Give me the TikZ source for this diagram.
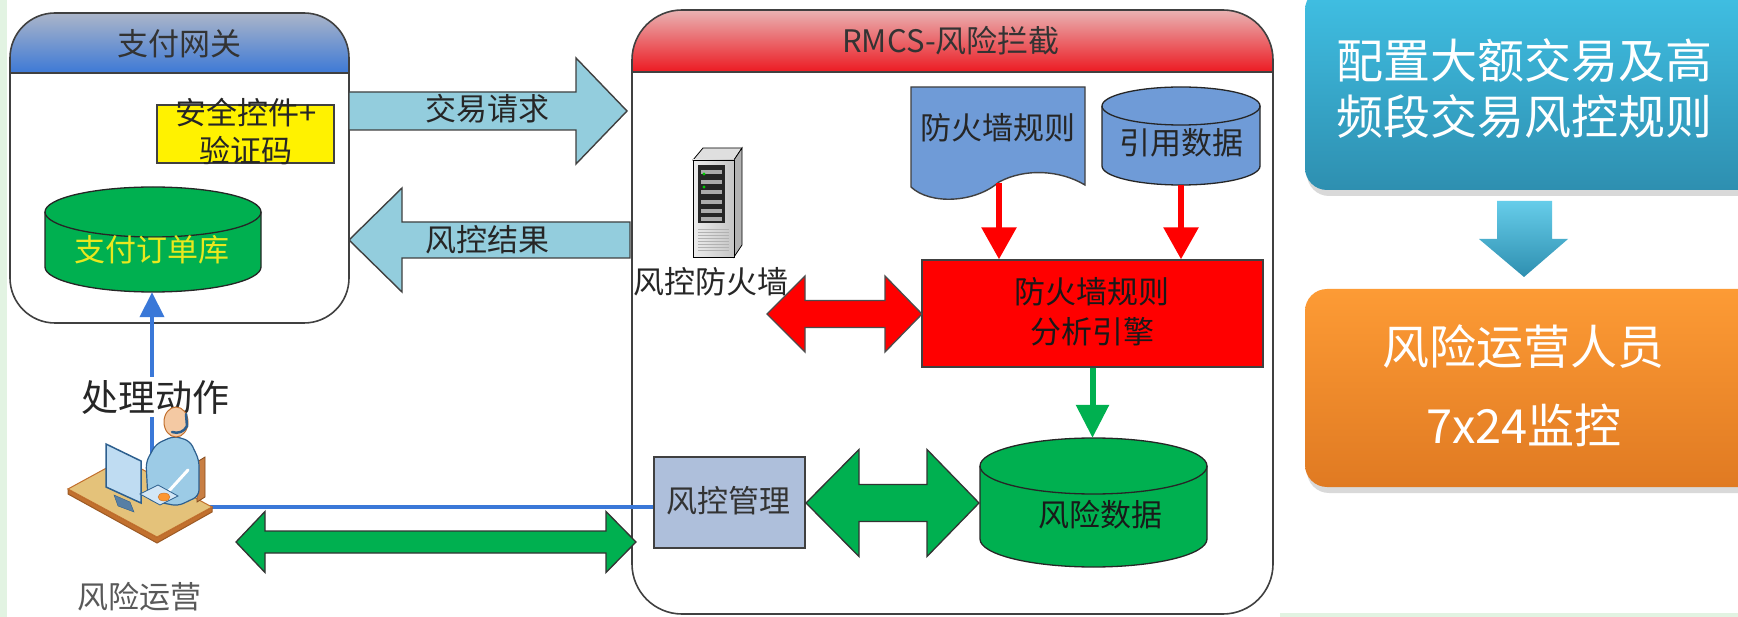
\documentclass[tikz,border=0pt]{standalone}
\usepackage{fontspec}
\setmainfont{Noto Sans CJK SC}
\usetikzlibrary{arrows.meta,fit,calc}

\definecolor{edgegray}{HTML}{404040}
\definecolor{hdrbluetop}{HTML}{ABB5C9}
\definecolor{hdrbluebot}{HTML}{3D79D6}
\definecolor{hdrredtop}{HTML}{E9B3B3}
\definecolor{hdrredbot}{HTML}{EC1A22}
\definecolor{flowblue}{HTML}{93CDDD}
\definecolor{okgreen}{HTML}{00B050}
\definecolor{docblue}{HTML}{6F9BD7}
\definecolor{mgmtblue}{HTML}{AEBFDB}
\definecolor{linkblue}{HTML}{3A78D8}
\definecolor{dbyellow}{HTML}{E8E81E}
\definecolor{cyantop}{HTML}{40C0E4}
\definecolor{cyanbot}{HTML}{2E8FB0}
\definecolor{orangetop}{HTML}{FD9B35}
\definecolor{orangebot}{HTML}{E07A22}
\definecolor{palegreen}{HTML}{E2F3E2}
\definecolor{deskfill}{HTML}{E4C27A}
\definecolor{deskedge}{HTML}{C2702E}
\definecolor{shirt}{HTML}{9CCBE6}
\definecolor{skin}{HTML}{F4C9A3}
\definecolor{screenfill}{HTML}{BFDCF2}
\definecolor{screenedge}{HTML}{2D5F8E}

\tikzset{
  txt/.style={inner sep=0pt, font=\fontsize{31}{38}\selectfont, align=center},
  bigtxt/.style={inner sep=0pt, font=\fontsize{47}{56}\selectfont, align=center, text=white},
  panelline/.style={draw=edgegray, line width=1.6pt},
  box/.style={draw=edgegray, line width=1.4pt, inner sep=0pt},
  flowarrow/.style={fill=flowblue, draw=edgegray, line width=1.4pt},
  greenarrow/.style={fill=okgreen, draw=black!80, line width=1.3pt},
  redblock/.style={fill=red, draw=black!70, line width=1.3pt},
  redlink/.style={draw=red, line width=6pt, -{Triangle[width=34pt,length=32pt]}},
  greenlink/.style={draw=okgreen, line width=6pt, -{Triangle[width=32pt,length=33pt]}},
  bluelink/.style={draw=linkblue, line width=3.8pt},
  region/.style={inner sep=0pt},
}

% cylinder: name, x1, y1, x2, y2, end radius, fill
\newcommand{\cylinderat}[7]{%
  \pgfmathsetmacro{\cylrx}{(#4-#2)/2}%
  \filldraw[fill=#7, draw=black!85, line width=1.3pt] (#2,{#3+#6}) -- (#2,{#5-#6})
    arc[start angle=180, end angle=360, x radius=\cylrx pt, y radius=#6pt] -- (#4,{#3+#6})
    arc[start angle=0, end angle=180, x radius=\cylrx pt, y radius=#6pt] -- cycle;
  \draw[draw=black!85, line width=1.3pt] (#2,{#3+#6})
    arc[start angle=180, end angle=360, x radius=\cylrx pt, y radius=#6pt];
  \node[region, fit={(#2,#3)(#4,#5)}] (#1) {};
}
% horizontal block arrow: style, tail x, head base x, tip x, centre y, half shaft, half head
\newcommand{\sglblock}[7]{%
  \draw[#1] (#2,{#5-#6}) -- (#3,{#5-#6}) -- (#3,{#5-#7}) -- (#4,#5) -- (#3,{#5+#7})
    -- (#3,{#5+#6}) -- (#2,{#5+#6}) -- cycle;
}
% horizontal double block arrow: style, left tip, left base, right base, right tip, centre y, half shaft, half head
\newcommand{\dblblock}[8]{%
  \draw[#1] (#2,#6) -- (#3,{#6-#8}) -- (#3,{#6-#7}) -- (#4,{#6-#7}) -- (#4,{#6-#8}) -- (#5,#6)
    -- (#4,{#6+#8}) -- (#4,{#6+#7}) -- (#3,{#6+#7}) -- (#3,{#6+#8}) -- cycle;
}

\begin{document}
\begin{tikzpicture}[x=1pt,y=-1pt]
\useasboundingbox (0,0) rectangle (1738,617);
\clip (0,0) rectangle (1738,617);
\fill[white] (0,0) rectangle (1738,617);
\fill[palegreen] (0,0) rectangle (7,617);
\fill[palegreen] (1280,613) rectangle (1738,617);

% ---------- payment gateway ----------
\begin{scope}
  \clip[rounded corners=45pt] (10,13) rectangle (349,323);
  \shade[top color=hdrbluetop, bottom color=hdrbluebot] (10,13) rectangle (349,73);
\end{scope}
\draw[panelline] (10,73) -- (349,73);
\draw[panelline, rounded corners=45pt] (10,13) rectangle (349,323);
\node[region, fit={(10,13)(349,323)}] (gw) {};
\node[txt, text=black!80] (gwtitle) at (179,44) {支付网关};

\node[box, fill=yellow, minimum width=177pt, minimum height=58pt] (ctrl) at (245.5,134) {};
\node[txt, text=black!85] (ctrltxt) at (246,131) {安全控件+\\验证码};

\cylinderat{orderdb}{45}{187}{261}{292}{25}{okgreen}
\node[txt, text=dbyellow] (orderdbtxt) at (152,250) {支付订单库};

% ---------- request / result flows ----------
\sglblock{flowarrow}{349}{576}{627}{111}{19}{53}
\node[txt, text=black!85] (reqtxt) at (487,109) {交易请求};
\sglblock{flowarrow}{630}{402}{349}{240}{18}{52}
\node[txt, text=black!85] (restxt) at (487,240) {风控结果};

% ---------- RMCS panel ----------
\begin{scope}
  \clip[rounded corners=50pt] (632,10) rectangle (1273,614);
  \shade[top color=hdrredtop, bottom color=hdrredbot] (632,10) rectangle (1273,72);
\end{scope}
\draw[panelline] (632,72) -- (1273,72);
\draw[panelline, rounded corners=50pt] (632,10) rectangle (1273,614);
\node[region, fit={(632,10)(1273,614)}] (rmcs) {};
\node[txt, text=black!80] (rmcstitle) at (951,41) {RMCS-风险拦截};

% firewall server
\filldraw[fill=gray!25, draw=black, line width=0.8pt] (693,160) -- (703,148) -- (742,148) -- (734,160) -- cycle;
\filldraw[fill=gray!60, draw=black, line width=0.8pt] (734,160) -- (742,148) -- (742,245) -- (734,257) -- cycle;
\shade[left color=gray!15, right color=gray!45] (693,160) rectangle (734,257);
\draw[black, line width=0.8pt] (693,160) rectangle (734,257);
\fill[black!85] (698,165) rectangle (725,223);
\foreach \yy in {170,180,190,200,209,217}
  \fill[gray!65] (701,\yy) rectangle (722,{\yy+4});
\fill[green!80!black] (704,174) circle[radius=1.6pt];
\fill[green!80!black] (704,187) circle[radius=1.6pt];
\foreach \yy in {229,232,...,252}
  \draw[gray!60, line width=0.6pt] (698,\yy) -- (729,\yy);
\node[region, fit={(693,148)(742,257)}] (fwsrv) {};
\node[txt, text=black!85] (fwlbl) at (711,282) {风控防火墙};

% firewall rules document
\filldraw[fill=docblue, draw=edgegray, line width=1.4pt] (911,87) -- (1085,87) -- (1085,185)
  .. controls (1060,170) and (1025,168) .. (999,182)
  .. controls (975,203) and (930,205) .. (911,187) -- cycle;
\node[region, fit={(911,87)(1085,200)}] (rules) {};
\node[txt, text=black!85] (rulestxt) at (998,128) {防火墙规则};
\coordinate (rulesout) at (999,183);

\cylinderat{refdata}{1102}{87}{1260}{185}{19}{docblue}
\node[txt, text=black!85] (refdatatxt) at (1181,143) {引用数据};

% analysis engine
\node[box, fill=red, minimum width=341pt, minimum height=107pt] (engine) at (1092.5,313.5) {};
\node[txt, font=\fontsize{31}{40}\selectfont, text=black!90] (enginetxt) at (1092,312) {防火墙规则\\分析引擎};

\draw[redlink] (rulesout) -- (rulesout |- engine.north);
\draw[redlink] (refdata.south) -- (refdata.south |- engine.north);
\dblblock{redblock}{767}{805}{885}{922}{314}{13.5}{38}

\cylinderat{riskdb}{980}{438}{1207}{567}{28}{okgreen}
\node[txt, text=black!90] (riskdbtxt) at (1100,515) {风险数据};
\draw[greenlink] (engine.south) -- (engine.south |- riskdb.north);

\node[box, fill=mgmtblue, minimum width=151pt, minimum height=91pt] (mgmt) at (729.5,502.5) {};
\node[txt, text=black!80] (mgmttxt) at (728,501) {风控管理};
\dblblock{greenarrow}{806}{859}{927}{979}{503}{18.5}{53.5}

% ---------- risk operator ----------
\coordinate (opup) at (152,455);
\coordinate (opright) at (205,507);
\draw[bluelink, -{Triangle[width=24pt,length=25pt]}] (opup) -- (opup |- orderdb.south);
\node[txt, font=\fontsize{37}{40}\selectfont, fill=white, inner ysep=3pt, text=black!85] (actlbl) at (155,397) {处理动作};
\draw[bluelink] (opright) -- (opright -| mgmt.west);

% operator at desk
\filldraw[fill=deskedge, draw=deskedge!80!black, line width=1pt] (68,489) -- (157,537) -- (212,507) -- (212,512) -- (157,543) -- (68,494) -- cycle;
\filldraw[fill=deskfill, draw=deskedge, line width=1pt] (68,489) -- (123,459) -- (212,507) -- (157,537) -- cycle;
\filldraw[fill=deskedge!90, draw=deskedge!70!black, line width=0.8pt] (197,462) -- (205,457) -- (205,497) -- (197,502) -- cycle;
\filldraw[fill=shirt, draw=screenedge, line width=1.2pt, rounded corners=6pt] (148,500) -- (146,462) -- (156,444) -- (174,436) -- (190,441) -- (199,460) -- (199,496) -- (178,506) -- cycle;
\draw[white, line width=3pt, line cap=round] (188,470) -- (168,492);
\filldraw[fill=skin, draw=deskedge, line width=1pt] (176,422) ellipse[x radius=12pt, y radius=15pt];
\draw[screenedge, line width=2.5pt, line cap=round] (186,414) -- (187,426) .. controls (184,432) and (178,434) .. (172,432);
\filldraw[fill=screenfill, draw=screenedge, line width=1.5pt] (106,444) -- (141,461) -- (141,503) -- (106,487) -- cycle;
\filldraw[fill=screenedge!80, draw=screenedge] (114,495) -- (130,502) -- (134,512) -- (118,506) -- cycle;
\filldraw[fill=screenfill!70!white, draw=screenedge, line width=0.8pt] (140,494) -- (158,485) -- (178,496) -- (160,505) -- cycle;
\filldraw[fill=orange!70!skin, draw=deskedge] (164,497) ellipse[x radius=6pt, y radius=4pt];
\node[region, fit={(66,405)(213,543)}] (op) {};
\node[txt, text=black!65] (oplbl) at (139,597) {风险运营};

\dblblock{greenarrow}{236}{265}{606}{636}{542}{11}{30.5}

% ---------- monitoring summary ----------
\fill[black, opacity=0.15, rounded corners=22pt] (1307,-12) rectangle (1772,196);
\shade[rounded corners=22pt, top color=cyantop, bottom color=cyanbot] (1305,-12) rectangle (1770,190);
\node[region, fit={(1305,0)(1738,190)}] (cfg) {};
\node[bigtxt] (cfgtxt) at (1524,89) {配置大额交易及高\\频段交易风控规则};

\shade[top color=cyantop!80!white, bottom color=cyanbot] (1497,201) -- (1552,201) -- (1552,239) -- (1568,239) -- (1524,277) -- (1479,239) -- (1497,239) -- cycle;

\fill[black, opacity=0.15, rounded corners=22pt] (1307,291) rectangle (1772,493);
\shade[rounded corners=22pt, top color=orangetop, bottom color=orangebot] (1305,289) rectangle (1770,487);
\node[region, fit={(1305,289)(1738,487)}] (ops) {};
\node[bigtxt] (opstxt1) at (1523,347) {风险运营人员};
\node[bigtxt] (opstxt2) at (1524,425) {7x24监控};
\end{tikzpicture}
\end{document}
